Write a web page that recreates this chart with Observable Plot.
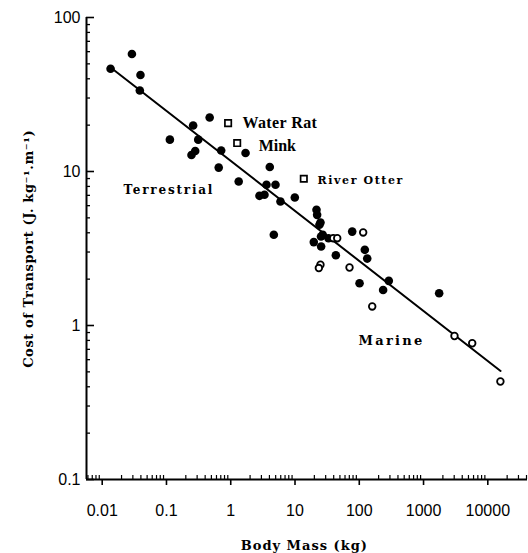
<!DOCTYPE html>
<html>
<head>
<meta charset="utf-8">
<script src="https://cdn.jsdelivr.net/npm/d3@7"></script>
<script src="https://cdn.jsdelivr.net/npm/@observablehq/plot@0.6"></script>
<style>
  html, body { margin: 0; padding: 0; background: #fff; }
  #chart svg { display: block; }
</style>
</head>
<body>
<div id="chart"></div>
<script>
// Filled circles (body mass kg, cost of transport J/kg/m)
const filledMass = [0.0135, 0.029, 0.0394, 0.0385, 0.113, 0.26, 0.312, 0.245, 0.28, 0.47,
  0.71, 1.70, 0.65, 4.05, 1.33, 3.60, 4.97, 2.80, 3.35, 5.94,
  9.93, 21.6, 22.1, 24.9, 24.0, 4.68, 27.0, 25.4, 19.6, 25.5,
  33.2, 77.6, 43.2, 122, 133, 288, 101, 235, 1750];
const filledCost = [46.5, 58, 42.3, 33.6, 16.1, 19.9, 16.1, 12.8, 13.6, 22.4,
  13.7, 13.2, 10.6, 10.7, 8.61, 8.2, 8.2, 6.95, 7.06, 6.38,
  6.78, 5.64, 5.23, 4.67, 4.51, 3.88, 3.88, 3.78, 3.48, 3.26,
  3.69, 4.07, 2.86, 3.10, 2.72, 1.95, 1.88, 1.70, 1.62];
// Open circles (marine)
const openMass = [39.3, 45.4, 115, 24.9, 23.5, 70.5, 159, 3030, 5720, 15700];
const openCost = [3.69, 3.69, 4.02, 2.48, 2.36, 2.38, 1.33, 0.855, 0.767, 0.433];
// Open squares (semi-aquatic)
const squareNames = ["Water Rat", "Mink", "River Otter"];
const squareMass = [0.91, 1.26, 13.7];
const squareCost = [20.6, 15.3, 8.97];
// Regression line end points
const fitMass = [0.015, 15800];
const fitCost = [45.8, 0.507];
// Annotations
const noteText = ["Water Rat", "Mink", "River Otter", "Terrestrial", "Marine"];
const noteMass = [1.52, 2.72, 22.4, 0.0214, 97.3];
const noteCost = [20.7, 14.7, 8.7, 7.6, 0.794];
// Axis ticks
const xTicks = [0.01, 0.1, 1, 10, 100, 1000, 10000];
const xTickLabels = ["0.01", "0.1", "1", "10", "100", "1000", "10000"];
const yTicks = [0.1, 1, 10, 100];
const yTickLabels = ["0.1", "1", "10", "100"];

const xDomain = [0.005697, 41460];
const yDomain = [0.1, 100];

const xMinor = [];
for (let e = -3; e <= 4; e++) for (let k = 2; k <= 9; k++) {
  const v = k * Math.pow(10, e);
  if (v > xDomain[0] && v < xDomain[1]) xMinor.push(v);
}
const yMinor = [];
for (let e = -1; e <= 1; e++) for (let k = 2; k <= 9; k++) yMinor.push(k * Math.pow(10, e));

const filled = filledMass.map((m, i) => ({m, c: filledCost[i]}));
const open = openMass.map((m, i) => ({m, c: openCost[i]}));
const squares = squareMass.map((m, i) => ({name: squareNames[i], m, c: squareCost[i]}));
const fit = fitMass.map((m, i) => ({m, c: fitCost[i]}));
const notes = noteText.map((t, i) => ({t, m: noteMass[i], c: noteCost[i]}));

const W = 528, H = 553, ML = 86, MR = 1, MT = 17, MB = 74;
const frameW = W - ML - MR, frameH = H - MT - MB;
const tickFont = "Liberation Sans, Arial, sans-serif";
const serifB = "DejaVu Serif, serif";

const noteStyle = {
  "Water Rat": {size: 16, font: "Liberation Serif, serif", ls: 0.4},
  "Mink": {size: 16, font: "Liberation Serif, serif", ls: 0},
  "River Otter": {size: 11, font: serifB, ls: 1.6},
  "Terrestrial": {size: 12, font: serifB, ls: 1.8},
  "Marine": {size: 13, font: serifB, ls: 2.3}
};

const svg = Plot.plot({
  width: W, height: H,
  marginLeft: ML, marginRight: MR, marginTop: MT, marginBottom: MB,
  x: {type: "log", domain: xDomain, axis: null},
  y: {type: "log", domain: yDomain, axis: null},
  marks: [
    // axis lines
    Plot.ruleX([xDomain[0]], {stroke: "#000", strokeWidth: 2}),
    Plot.ruleY([yDomain[0]], {stroke: "#000", strokeWidth: 2}),
    // y ticks (inward)
    Plot.tickY(yTicks, {y: d => d, insetRight: frameW - 8, stroke: "#000", strokeWidth: 1.6}),
    Plot.tickY(yMinor, {y: d => d, insetRight: frameW - 4, stroke: "#000", strokeWidth: 1.3}),
    // x ticks: majors outward, minors inward
    Plot.tickX(xTicks, {x: d => d, insetTop: frameH, insetBottom: -6, stroke: "#000", strokeWidth: 1.6}),
    Plot.tickX(xMinor, {x: d => d, insetTop: frameH - 4, stroke: "#000", strokeWidth: 1.2}),
    // tick labels
    Plot.text(yTicks, {x: xDomain[0], y: d => d, text: (d, i) => yTickLabels[i], dx: -6, textAnchor: "end",
      fontSize: 16, fontFamily: tickFont, fill: "#000"}),
    Plot.text(xTicks, {x: d => d, y: yDomain[0], text: (d, i) => xTickLabels[i], dy: 31,
      fontSize: 16, fontFamily: tickFont, fill: "#000"}),
    // axis titles
    Plot.text(["Body Mass (kg)"], {x: 14, y: yDomain[0], dy: 66, text: d => d,
      fontSize: 13, fontWeight: "bold", fontFamily: serifB, fill: "#000"}),
    Plot.text(["Cost of Transport (J. kg\u207B\u00B9.m\u207B\u00B9)"], {x: xDomain[0], y: 3.15, dx: -58, rotate: -90, text: d => d,
      fontSize: 13, fontWeight: "bold", fontFamily: serifB, fill: "#000"}),
    // regression line
    Plot.line(fit, {x: "m", y: "c", stroke: "#000", strokeWidth: 2}),
    // data
    Plot.dot(filled, {x: "m", y: "c", r: 4.3, fill: "#000", stroke: "none"}),
    Plot.dot(open, {x: "m", y: "c", r: 3.3, fill: "#fff", stroke: "#000", strokeWidth: 1.8}),
    Plot.dot(squares, {x: "m", y: "c", symbol: "square", r: 3.6, fill: "#fff", stroke: "#000", strokeWidth: 1.7}),
    // annotations
    ...notes.map(n => Plot.text([n], {x: "m", y: "c", text: "t", textAnchor: "start",
      fontSize: noteStyle[n.t].size, fontFamily: noteStyle[n.t].font, fontWeight: "bold", fill: "#000"}))
  ]
});

d3.select(svg).selectAll("text").each(function() {
  const t = this.textContent;
  if (noteStyle[t] && noteStyle[t].ls) this.setAttribute("letter-spacing", noteStyle[t].ls);
  if (t === "Body Mass (kg)") this.setAttribute("letter-spacing", 1);
  if (t.startsWith("Cost of")) this.setAttribute("letter-spacing", 0.6);
});

document.getElementById("chart").appendChild(svg);
</script>
</body>
</html>
